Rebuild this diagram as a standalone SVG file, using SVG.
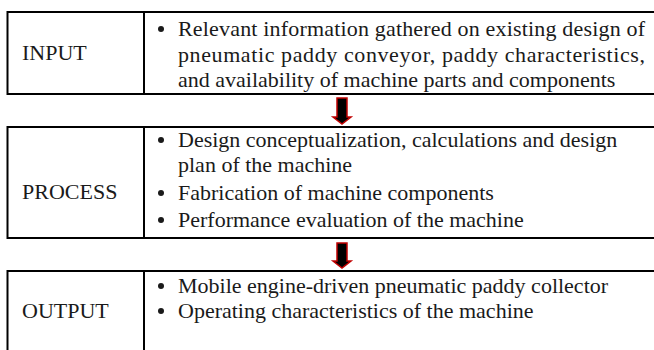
<svg xmlns="http://www.w3.org/2000/svg" width="654" height="350" viewBox="0 0 654 350">
<style>
.ln{stroke:#000;stroke-width:2;fill:none}
text{font-family:'Liberation Serif','Times New Roman','DejaVu Serif',serif;font-size:22px;fill:#1a1a1a}
.b{fill:#1a1a1a}
.arr{fill:#000;stroke:#c00000;stroke-width:1.5;stroke-linejoin:miter}
</style>
<rect width="654" height="350" fill="#fff"/>
<g id="input" font-family="Liberation Serif, serif">
<path class="ln" d="M7.5 12H654M7.5 94H654M7.5 11V95M144 12V94"/>
<text x="22" y="60">INPUT</text>
<circle class="b" cx="161" cy="29" r="3"/>
<text x="178" y="36" textLength="467" lengthAdjust="spacing">Relevant information gathered on existing design of</text>
<text x="178" y="62" textLength="467" lengthAdjust="spacing">pneumatic paddy conveyor, paddy characteristics,</text>
<text x="178" y="87">and availability of machine parts and components</text>
</g>
<g id="process" font-family="Liberation Serif, serif">
<path class="ln" d="M7.5 127H654M7.5 238H654M7.5 126V239M144 127V238"/>
<text x="22" y="199">PROCESS</text>
<circle class="b" cx="161" cy="140" r="3"/>
<text x="178" y="147">Design conceptualization, calculations and design</text>
<text x="178" y="172">plan of the machine</text>
<circle class="b" cx="161" cy="193" r="3"/>
<text x="178" y="200">Fabrication of machine components</text>
<circle class="b" cx="161" cy="220" r="3"/>
<text x="178" y="227">Performance evaluation of the machine</text>
</g>
<g id="output" font-family="Liberation Serif, serif">
<path class="ln" d="M7.5 271H654M7.5 270V350M144 271V350"/>
<text x="22" y="318">OUTPUT</text>
<circle class="b" cx="161" cy="286" r="3"/>
<text x="178" y="293">Mobile engine-driven pneumatic paddy collector</text>
<circle class="b" cx="161" cy="311" r="3"/>
<text x="178" y="318">Operating characteristics of the machine</text>
</g>
<g id="connectors">
<path class="arr" d="M337 98H347V117H351L342 124L333 117H337Z"/>
<path class="arr" d="M337 243H347V261H351L342 268L333 261H337Z"/>
</g>
</svg>
